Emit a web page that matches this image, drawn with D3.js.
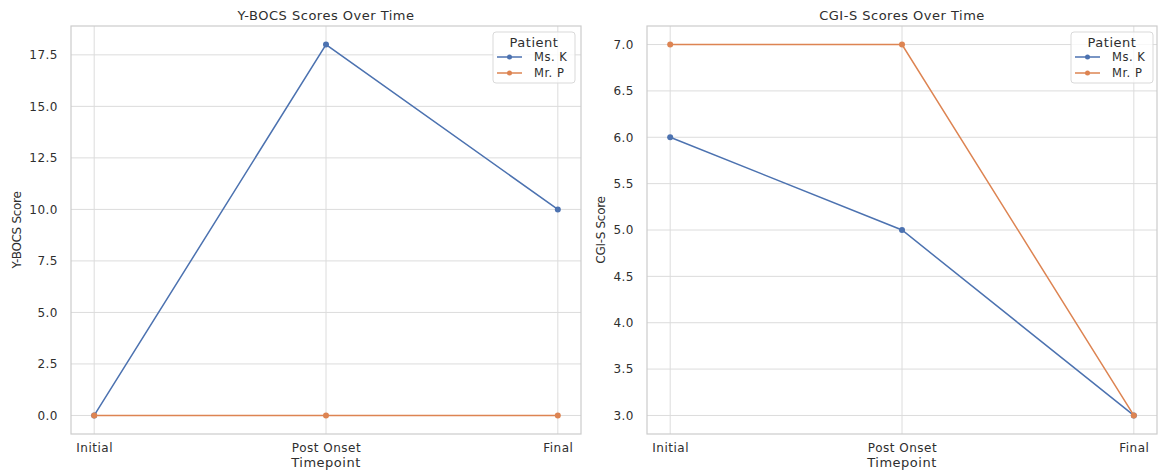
<!DOCTYPE html>
<html><head><meta charset="utf-8">
<script src="https://cdn.jsdelivr.net/npm/d3@7"></script>
<style>body{margin:0;background:#fff}svg{display:block}text{font-family:"DejaVu Sans",sans-serif;fill:#2e2e2e}</style>
</head><body><svg id="c" width="1158" height="470"></svg>
<script>
const timepoints = ["Initial", "Post Onset", "Final"];
const patients = ["Ms. K", "Mr. P"];
const ybocsMsK = [0, 18, 10];
const ybocsMrP = [0, 0, 0];
const cgisMsK = [6, 5, 3];
const cgisMrP = [7, 7, 3];
const ybocsTicks = [0, 2.5, 5, 7.5, 10, 12.5, 15, 17.5];
const cgisTicks = [3, 3.5, 4, 4.5, 5, 5.5, 6, 6.5, 7];
const colors = ["#4c72b0", "#dd8452"];

const svg = d3.select("#c");
function panel(cfg) {
  const {left, right, top, bottom, title, ylabel, series, ticks, fmt, ylabelX, legX} = cfg;
  const g = svg.append("g");
  const x = d3.scaleLinear().domain([-0.1, 2.1]).range([left, right]);
  const all = series.flat();
  const mn = d3.min(all), mx = d3.max(all), m = (mx - mn) * 0.05;
  const y = d3.scaleLinear().domain([mn - m, mx + m]).range([bottom, top]);
  g.selectAll(".gy").data(ticks).join("line").attr("x1", left).attr("x2", right)
    .attr("y1", d => y(d)).attr("y2", d => y(d)).attr("stroke", "#dcdcdc").attr("stroke-width", 1);
  g.selectAll(".gx").data(timepoints).join("line").attr("x1", (d, i) => x(i)).attr("x2", (d, i) => x(i))
    .attr("y1", top).attr("y2", bottom).attr("stroke", "#dcdcdc").attr("stroke-width", 1);
  const ya = d3.axisLeft(y).tickValues(ticks).tickFormat(fmt).tickSize(0).tickPadding(13);
  const yg = g.append("g").attr("transform", `translate(${left},0)`).call(ya);
  yg.select(".domain").remove();
  yg.selectAll("text").attr("font-size", 12).attr("letter-spacing", 0.5).style("fill", "#2e2e2e").attr("font-family", "DejaVu Sans");
  const xa = d3.axisBottom(x).tickValues([0, 1, 2]).tickFormat(i => timepoints[i]).tickSize(0).tickPadding(9);
  const xg = g.append("g").attr("transform", `translate(0,${bottom})`).call(xa);
  xg.select(".domain").remove();
  xg.selectAll("text").attr("font-size", 12).attr("letter-spacing", 0.5).style("fill", "#2e2e2e").attr("font-family", "DejaVu Sans");
  g.append("rect").attr("x", left).attr("y", top).attr("width", right - left).attr("height", bottom - top)
    .attr("fill", "none").attr("stroke", "#cccccc").attr("stroke-width", 1.2);
  const line = d3.line().x((d, i) => x(i)).y(d => y(d));
  series.forEach((s, k) => {
    g.append("path").datum(s).attr("d", line).attr("fill", "none").attr("stroke", colors[k]).attr("stroke-width", 1.5);
    g.selectAll(".p" + k).data(s).join("circle").attr("cx", (d, i) => x(i)).attr("cy", d => y(d)).attr("r", 3)
      .attr("fill", colors[k]);
  });
  g.append("text").attr("x", (left + right) / 2).attr("y", 20).attr("text-anchor", "middle").attr("font-size", 13)
    .attr("letter-spacing", 0.5).text(title);
  g.append("text").attr("x", (left + right) / 2).attr("y", 467).attr("text-anchor", "middle").attr("font-size", 13)
    .attr("letter-spacing", 0.5).text("Timepoint");
  g.append("text").attr("transform", `translate(${ylabelX},${(top + bottom) / 2}) rotate(-90)`).attr("text-anchor", "middle")
    .attr("font-size", 12).attr("letter-spacing", -0.3).text(ylabel);
  const lg = g.append("g").attr("transform", `translate(${legX},32)`);
  lg.append("rect").attr("width", 82).attr("height", 51).attr("rx", 3).attr("fill", "#fff").attr("fill-opacity", 0.8)
    .attr("stroke", "#d9d9d9");
  lg.append("text").attr("x", 41).attr("y", 15).attr("text-anchor", "middle").attr("font-size", 13)
    .attr("letter-spacing", 0.5).text("Patient");
  patients.forEach((p, k) => {
    const yy = 25 + k * 16;
    lg.append("line").attr("x1", 4).attr("x2", 29).attr("y1", yy).attr("y2", yy).attr("stroke", colors[k]).attr("stroke-width", 1.5);
    lg.append("circle").attr("cx", 16.5).attr("cy", yy).attr("r", 2.5).attr("fill", colors[k]);
    lg.append("text").attr("x", 41).attr("y", yy + 4).attr("font-size", 11.5).attr("letter-spacing", 0.5).text(p);
  });
}
panel({left: 71, right: 581, top: 26, bottom: 434, title: "Y-BOCS Scores Over Time", ylabel: "Y-BOCS Score",
  series: [ybocsMsK, ybocsMrP], ticks: ybocsTicks, fmt: d3.format(".1f"), ylabelX: 21, legX: 493});
panel({left: 647, right: 1157, top: 26, bottom: 434, title: "CGI-S Scores Over Time", ylabel: "CGI-S Score",
  series: [cgisMsK, cgisMrP], ticks: cgisTicks, fmt: d3.format(".1f"), ylabelX: 605, legX: 1071});
</script></body></html>
